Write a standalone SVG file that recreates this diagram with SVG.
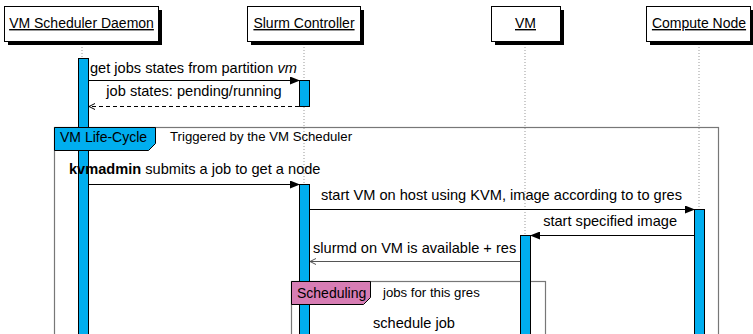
<svg xmlns="http://www.w3.org/2000/svg" width="753" height="334" viewBox="0 0 753 334">
<style>
text{font-family:"Liberation Sans",Arial,sans-serif;fill:#000}
.lbl{font-size:14px}
.msg{font-size:14.6px}
.sm{font-size:13.2px}
.box{fill:#fff;stroke:#000;stroke-width:1}
.shadow{fill:#000}
.life{stroke:#999;stroke-width:1;stroke-dasharray:1 2;fill:none}
.act{fill:#00AEEF;stroke:#000;stroke-width:1}
.frame{fill:none;stroke:#777;stroke-width:1.2}
.arr{stroke:#000;stroke-width:1;fill:none}
</style>
<defs>
<marker id="fill" markerWidth="10" markerHeight="8" refX="9" refY="4" orient="auto" markerUnits="userSpaceOnUse">
<path d="M0,0 L10,4 L0,8 Z" fill="#000"/>
</marker>
<marker id="open" markerWidth="8" markerHeight="8" refX="7" refY="4" orient="auto" markerUnits="userSpaceOnUse">
<path d="M1,1 L7,4 L1,7" fill="none" stroke="#000" stroke-width="1"/>
</marker>
<marker id="opengray" markerWidth="8" markerHeight="8" refX="7" refY="4" orient="auto" markerUnits="userSpaceOnUse">
<path d="M1,1 L7,4 L1,7" fill="none" stroke="#555" stroke-width="1"/>
</marker>
</defs>

<g id="lifelines">
<line class="life" x1="82" y1="44" x2="82" y2="334"/>
<line class="life" x1="304" y1="44" x2="304" y2="334"/>
<line class="life" x1="525" y1="44" x2="525" y2="334"/>
<line class="life" x1="699" y1="44" x2="699" y2="334"/>
</g>

<g id="node-daemon">
<rect class="shadow" x="8" y="10" width="154" height="35"/>
<rect class="box" x="4.5" y="6.5" width="154" height="35"/>
<text class="lbl" x="81.5" y="28" text-anchor="middle" text-decoration="underline">VM Scheduler Daemon</text>
</g>
<g id="node-slurm">
<rect class="shadow" x="251" y="10" width="113" height="35"/>
<rect class="box" x="247.5" y="6.5" width="113" height="35"/>
<text class="lbl" x="304" y="28" text-anchor="middle" text-decoration="underline">Slurm Controller</text>
</g>
<g id="node-vm">
<rect class="shadow" x="495" y="10" width="69" height="35"/>
<rect class="box" x="491.5" y="6.5" width="69" height="35"/>
<text class="lbl" x="525.5" y="28" text-anchor="middle" text-decoration="underline">VM</text>
</g>
<g id="node-compute">
<rect class="shadow" x="650" y="10" width="104" height="35"/>
<rect class="box" x="646.5" y="6.5" width="104" height="35"/>
<text class="lbl" x="699" y="28" text-anchor="middle" text-decoration="underline">Compute Node</text>
</g>

<g id="frame-lifecycle">
<rect class="frame" x="54.5" y="127.5" width="664" height="220"/>
</g>
<g id="frame-scheduling">
<rect class="frame" x="291.5" y="281.5" width="254" height="80"/>
</g>

<g id="activations">
<rect class="act" x="78.5" y="58.5" width="10" height="290"/>
<rect class="act" x="299.5" y="80.5" width="10" height="26"/>
<rect class="act" x="299.5" y="184.5" width="10" height="160"/>
<rect class="act" x="694.5" y="209.5" width="10" height="140"/>
<rect class="act" x="520.5" y="235.5" width="10" height="110"/>
</g>

<g id="frame-labels">
<path d="M54.5,127.5 H155.5 V143.5 L148.5,150.5 H54.5 Z" fill="#00AEEF" stroke="#000" stroke-width="1"/>
<text class="lbl" x="60" y="142">VM Life-Cycle</text>
<text class="sm" x="170" y="141">Triggered by the VM Scheduler</text>
<path d="M291.5,281.5 H370.5 V297.5 L363.5,304.5 H291.5 Z" fill="#D77DB4" stroke="#000" stroke-width="1"/>
<text class="lbl" x="297" y="298">Scheduling</text>
<text class="sm" x="383" y="297">jobs for this gres</text>
</g>

<g id="connectors">
<line class="arr" x1="89" y1="80.5" x2="299" y2="80.5" marker-end="url(#fill)"/>
<text class="msg" x="90" y="73">get jobs states from partition <tspan font-style="italic">vm</tspan></text>
<line class="arr" x1="299" y1="106.5" x2="89" y2="106.5" stroke-dasharray="4 3" marker-end="url(#open)"/>
<text class="msg" x="194" y="96" text-anchor="middle">job states:  pending/running</text>
<line class="arr" x1="89" y1="184.5" x2="299" y2="184.5" marker-end="url(#fill)"/>
<text class="msg" x="69" y="174"><tspan font-weight="bold">kvmadmin</tspan> submits a job to get a node</text>
<line class="arr" x1="310" y1="209.5" x2="694" y2="209.5" marker-end="url(#fill)"/>
<text class="msg" x="321" y="200">start VM on host using KVM, image according to to gres</text>
<line class="arr" x1="694" y1="235.5" x2="531" y2="235.5" marker-end="url(#fill)"/>
<text class="msg" x="677" y="226" text-anchor="end">start specified image</text>
<line x1="520" y1="261.5" x2="310" y2="261.5" stroke="#555" stroke-width="1" marker-end="url(#opengray)"/>
<text class="msg" x="313" y="253">slurmd on VM is available + res</text>
<text class="msg" x="414" y="328" text-anchor="middle">schedule job</text>
</g>
</svg>
